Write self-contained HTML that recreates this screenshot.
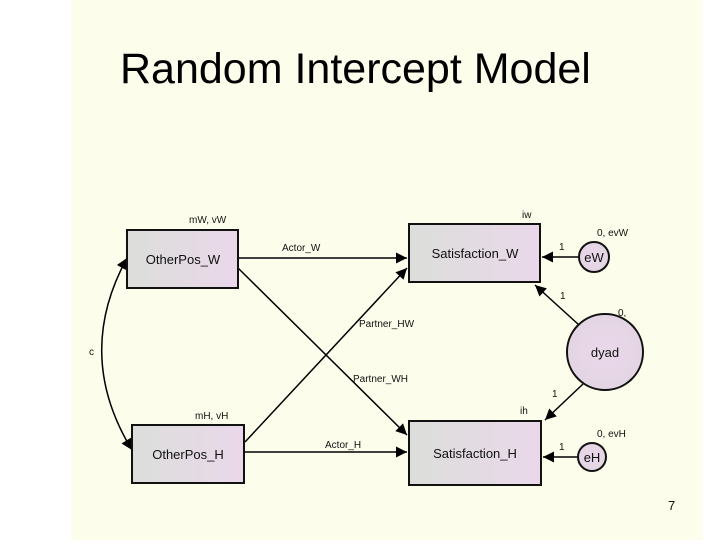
<!DOCTYPE html>
<html><head><meta charset="utf-8"><style>
html,body{margin:0;padding:0;background:#fff;}
body{width:720px;height:540px;position:relative;overflow:hidden;font-family:"Liberation Sans",Arial,sans-serif;}
</style></head><body>
<svg width="720" height="540" xmlns="http://www.w3.org/2000/svg" font-family="Liberation Sans, Arial, sans-serif">
<defs>
<linearGradient id="g" x1="0" y1="0" x2="1" y2="0"><stop offset="0" stop-color="#dcdedb"/><stop offset="1" stop-color="#ead8ea"/></linearGradient>
<radialGradient id="c" cx="0.5" cy="0.5" r="0.6"><stop offset="0" stop-color="#ead8ea"/><stop offset="1" stop-color="#e2d4e2"/></radialGradient>
<marker id="b" viewBox="0 0 10 10" refX="10" refY="5" markerWidth="16" markerHeight="11" orient="auto-start-reverse" markerUnits="userSpaceOnUse"><path d="M0,0 L10,5 L0,10 z" fill="#000"/></marker>
</defs>
<rect x="71" y="0" width="632" height="540" fill="#fdfdec"/>
<text x="120" y="83" font-size="43" fill="#000">Random Intercept Model</text>
<g stroke="#000" stroke-width="1.5" fill="none">
<line x1="238" y1="258" x2="407" y2="258" marker-end="url(#b)"/>
<line x1="245" y1="452" x2="407" y2="452" marker-end="url(#b)"/>
<line x1="238" y1="268" x2="407" y2="435" marker-end="url(#b)"/>
<line x1="245" y1="442" x2="407" y2="268" marker-end="url(#b)"/>
<line x1="580" y1="257" x2="542" y2="257" marker-end="url(#b)"/>
<line x1="578" y1="457" x2="543" y2="457" marker-end="url(#b)"/>
<line x1="579" y1="325" x2="535" y2="285" marker-end="url(#b)"/>
<line x1="583" y1="384" x2="545" y2="420" marker-end="url(#b)"/>
<path d="M127,258 Q74,355 132,450" marker-start="url(#b)" marker-end="url(#b)"/>
</g>
<g stroke="#111" stroke-width="2">
<rect x="127" y="230" width="111" height="58" fill="url(#g)"/>
<rect x="132" y="425" width="112" height="58" fill="url(#g)"/>
<rect x="409" y="224" width="131" height="58" fill="url(#g)"/>
<rect x="409" y="421" width="132" height="64" fill="url(#g)"/>
<circle cx="594" cy="257" r="15" fill="url(#c)"/>
<circle cx="592" cy="457" r="14" fill="url(#c)"/>
<circle cx="605" cy="352" r="38" fill="url(#c)"/>
</g>
<g font-size="13" text-anchor="middle" fill="#111">
<text x="183" y="264">OtherPos_W</text>
<text x="188" y="459">OtherPos_H</text>
<text x="475" y="258">Satisfaction_W</text>
<text x="475" y="458">Satisfaction_H</text>
<text x="594" y="262">eW</text>
<text x="592" y="462">eH</text>
<text x="605" y="357">dyad</text>
</g>
<g font-size="10" fill="#111">
<text x="189" y="223">mW, vW</text>
<text x="195" y="419">mH, vH</text>
<text x="522" y="218">iw</text>
<text x="520" y="414">ih</text>
<text x="597" y="236">0, evW</text>
<text x="597" y="437">0, evH</text>
<text x="618" y="316">0,</text>
<text x="282" y="251">Actor_W</text>
<text x="325" y="448">Actor_H</text>
<text x="359" y="327">Partner_HW</text>
<text x="353" y="382">Partner_WH</text>
<text x="89" y="355">c</text>
<text x="559" y="250">1</text>
<text x="559" y="450">1</text>
<text x="560" y="299">1</text>
<text x="552" y="397">1</text>
</g>
<text x="668" y="510" font-size="13" fill="#111">7</text>
</svg>
</body></html>
